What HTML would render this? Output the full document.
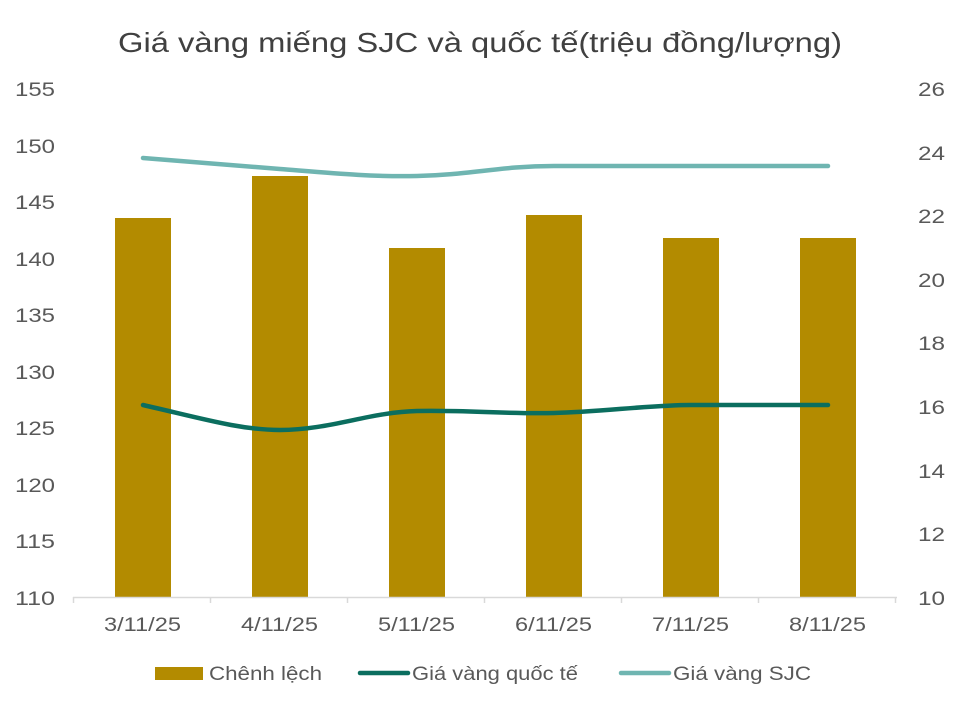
<!DOCTYPE html>
<html><head><meta charset="utf-8"><style>
body{margin:0;background:#fff}
svg text{font-family:"Liberation Sans",sans-serif;fill:#595959}
</style></head><body>
<svg width="972" height="714" viewBox="0 0 972 714" xmlns="http://www.w3.org/2000/svg">
<rect width="972" height="714" fill="#fff"/>
<text x="118" y="52" font-size="28" textLength="724" lengthAdjust="spacingAndGlyphs" style="fill:#404040">Giá vàng miếng SJC và quốc tế(triệu đồng/lượng)</text>
<g font-size="19">
<text x="15" y="96" textLength="40" lengthAdjust="spacingAndGlyphs">155</text><text x="15" y="153" textLength="40" lengthAdjust="spacingAndGlyphs">150</text><text x="15" y="209" textLength="40" lengthAdjust="spacingAndGlyphs">145</text><text x="15" y="266" textLength="40" lengthAdjust="spacingAndGlyphs">140</text><text x="15" y="322" textLength="40" lengthAdjust="spacingAndGlyphs">135</text><text x="15" y="379" textLength="40" lengthAdjust="spacingAndGlyphs">130</text><text x="15" y="435" textLength="40" lengthAdjust="spacingAndGlyphs">125</text><text x="15" y="492" textLength="40" lengthAdjust="spacingAndGlyphs">120</text><text x="15" y="548" textLength="40" lengthAdjust="spacingAndGlyphs">115</text><text x="15" y="605" textLength="40" lengthAdjust="spacingAndGlyphs">110</text>
</g>
<g font-size="19">
<text x="918" y="96" textLength="27" lengthAdjust="spacingAndGlyphs">26</text><text x="918" y="160" textLength="27" lengthAdjust="spacingAndGlyphs">24</text><text x="918" y="223" textLength="27" lengthAdjust="spacingAndGlyphs">22</text><text x="918" y="287" textLength="27" lengthAdjust="spacingAndGlyphs">20</text><text x="918" y="350" textLength="27" lengthAdjust="spacingAndGlyphs">18</text><text x="918" y="414" textLength="27" lengthAdjust="spacingAndGlyphs">16</text><text x="918" y="478" textLength="27" lengthAdjust="spacingAndGlyphs">14</text><text x="918" y="541" textLength="27" lengthAdjust="spacingAndGlyphs">12</text><text x="918" y="605" textLength="27" lengthAdjust="spacingAndGlyphs">10</text>
</g>
<g fill="#b38b00">
<rect x="115" y="218" width="56" height="379"/>
<rect x="252" y="176" width="56" height="421"/>
<rect x="389" y="248" width="56" height="349"/>
<rect x="526" y="215" width="56" height="382"/>
<rect x="663" y="238" width="56" height="359"/>
<rect x="800" y="238" width="56" height="359"/>
</g>
<g stroke="#d9d9d9" stroke-width="1.5" fill="none">
<line x1="73" y1="597.5" x2="897" y2="597.5"/>
<path d="M73.5 597v6M210.5 597v6M347.5 597v6M484.5 597v6M621.5 597v6M758.5 597v6M895.5 597v6"/>
</g>
<g font-size="19">
<text x="104" y="631" textLength="77" lengthAdjust="spacingAndGlyphs">3/11/25</text><text x="241" y="631" textLength="77" lengthAdjust="spacingAndGlyphs">4/11/25</text><text x="378" y="631" textLength="77" lengthAdjust="spacingAndGlyphs">5/11/25</text><text x="515" y="631" textLength="77" lengthAdjust="spacingAndGlyphs">6/11/25</text><text x="652" y="631" textLength="77" lengthAdjust="spacingAndGlyphs">7/11/25</text><text x="789" y="631" textLength="77" lengthAdjust="spacingAndGlyphs">8/11/25</text>
</g>
<path d="M143 158 C200 163,240 166,280 169 C330 173,370 177,417 176 C470 175,500 166,554 166 C600 166,650 166,691 166 L828 166" stroke="#6fb5b1" stroke-width="4.5" fill="none" stroke-linecap="round"/>
<path d="M143 405 C200 418,240 430,280 430 C330 430,370 412,417 411 C470 410,500 414,554 413 C600 412,650 405,691 405 L828 405" stroke="#0b6e5f" stroke-width="4.5" fill="none" stroke-linecap="round"/>
<rect x="155" y="667" width="48" height="13" fill="#b38b00"/>
<text x="209" y="680" font-size="19" textLength="113" lengthAdjust="spacingAndGlyphs">Chênh lệch</text>
<line x1="360" y1="673" x2="408" y2="673" stroke="#0b6e5f" stroke-width="4.5" stroke-linecap="round"/>
<text x="412" y="680" font-size="19" textLength="166" lengthAdjust="spacingAndGlyphs">Giá vàng quốc tế</text>
<line x1="621" y1="673" x2="669" y2="673" stroke="#6fb5b1" stroke-width="4.5" stroke-linecap="round"/>
<text x="673" y="680" font-size="19" textLength="138" lengthAdjust="spacingAndGlyphs">Giá vàng SJC</text>
</svg>
</body></html>
